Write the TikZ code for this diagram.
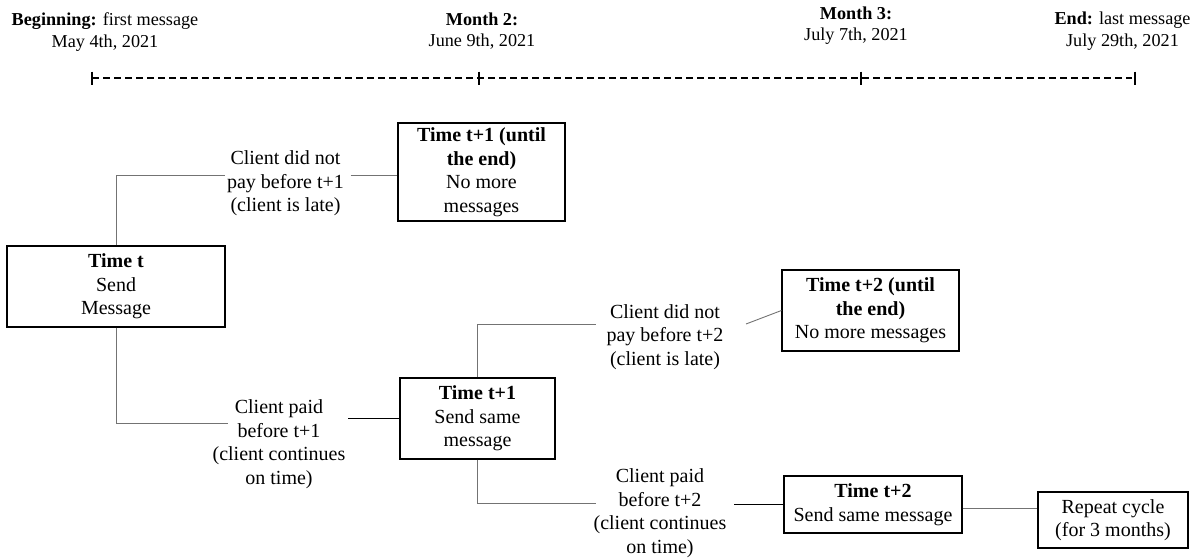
\documentclass[tikz,border=0pt]{standalone}
\usepackage{fontspec}
\setmainfont{Liberation Serif}
\usetikzlibrary{calc}
\begin{document}
\begin{tikzpicture}[x=1pt,y=-1pt,
  box/.style={draw,line width=1.2pt,inner sep=0pt,align=center,
              font=\fontsize{20}{23.5}\selectfont},
  lbl/.style={inner sep=0pt,align=center,font=\fontsize{20}{23.5}\selectfont},
  datelbl/.style={inner sep=0pt,align=center,font=\fontsize{18.2}{21.5}\selectfont},
  link/.style={draw=black!55,line width=0.9pt},
  linkdark/.style={draw=black,line width=1.2pt},
  tickmark/.style={line width=2.4pt},
  axis/.style={line width=1.6pt,dash pattern=on 6.5pt off 4.5pt}]

\useasboundingbox (0,0) rectangle (1200,558);

% timeline
\coordinate (tk0) at (92,78);
\coordinate (tk1) at (479,78);
\coordinate (tk2) at (861,78);
\coordinate (tk3) at (1135,78);
\draw[axis] (tk0) -- ($(tk3)+(-3,0)$);
\foreach \k in {tk0,tk1,tk2,tk3}
  \draw[tickmark] ($(\k)+(0,-6.5)$) -- ($(\k)+(0,6.5)$);

\node[datelbl] (d0) at (105,32) {\textbf{Beginning:} first message\\May 4th, 2021};
\node[datelbl] (d1) at (482,31) {\textbf{Month 2:}\\June 9th, 2021};
\node[datelbl] (d2) at (856,25.5) {\textbf{Month 3:}\\July 7th, 2021};
\node[datelbl] (d3) at (1122.5,31) {\textbf{End:} last message\\July 29th, 2021};

% boxes
\node[box,minimum width=218,minimum height=81] (tt) at (116,286.5)
  {\textbf{Time t}\\Send\\Message};
\node[box,minimum width=167,minimum height=98] (tu1) at (481.5,172)
  {\textbf{Time t+1 (until}\\\textbf{the end)}\\No more\\messages};
\node[box,minimum width=155,minimum height=81] (t1) at (477.5,418.5)
  {\textbf{Time t+1}\\Send same\\message};
\node[box,minimum width=177,minimum height=81] (tu2) at (870.5,310.5)
  {\textbf{Time t+2 (until}\\\textbf{the end)}\\No more messages};
\node[box,minimum width=178,minimum height=57] (t2) at (873,504.5)
  {\textbf{Time t+2}\\Send same message};
\node[box,minimum width=150,minimum height=56] (rep) at (1113,520)
  {Repeat cycle\\(for 3 months)};

% branch labels
\node[lbl] (l1) at (285.5,183.5) {Client did not\\pay before t+1\\(client is late)};
\node[lbl] (l2) at (279,444) {Client paid\\before t+1\\(client continues\\on time)};
\node[lbl] (l3) at (665,337) {Client did not\\pay before t+2\\(client is late)};
\node[lbl] (l4) at (660,513) {Client paid\\before t+2\\(client continues\\on time)};

% connectors
\draw[link] (tt.north) |- ($(l1)+(-61,-8.5)$);
\draw[link] ($(l1)+(65,-8.5)$) -- ($(tu1.west)+(0,3)$);
\draw[link] (tt.south) |- ($(l2)+(-51,-21)$);
\draw[linkdark] ($(l2)+(69,-25.5)$) -- (t1.west);
\draw[link] (t1.north) |- ($(l3)+(-69,-13)$);
\draw[link] ($(l3)+(81,-13)$) -- (tu2.west);
\draw[link] (t1.south) |- ($(l4)+(-64,-10)$);
\draw[linkdark] ($(l4)+(74,-8.5)$) -- (t2.west);
\draw[link] ($(t2.east)+(0,3.5)$) -- ($(rep.west)+(0,-12)$);
\end{tikzpicture}
\end{document}
